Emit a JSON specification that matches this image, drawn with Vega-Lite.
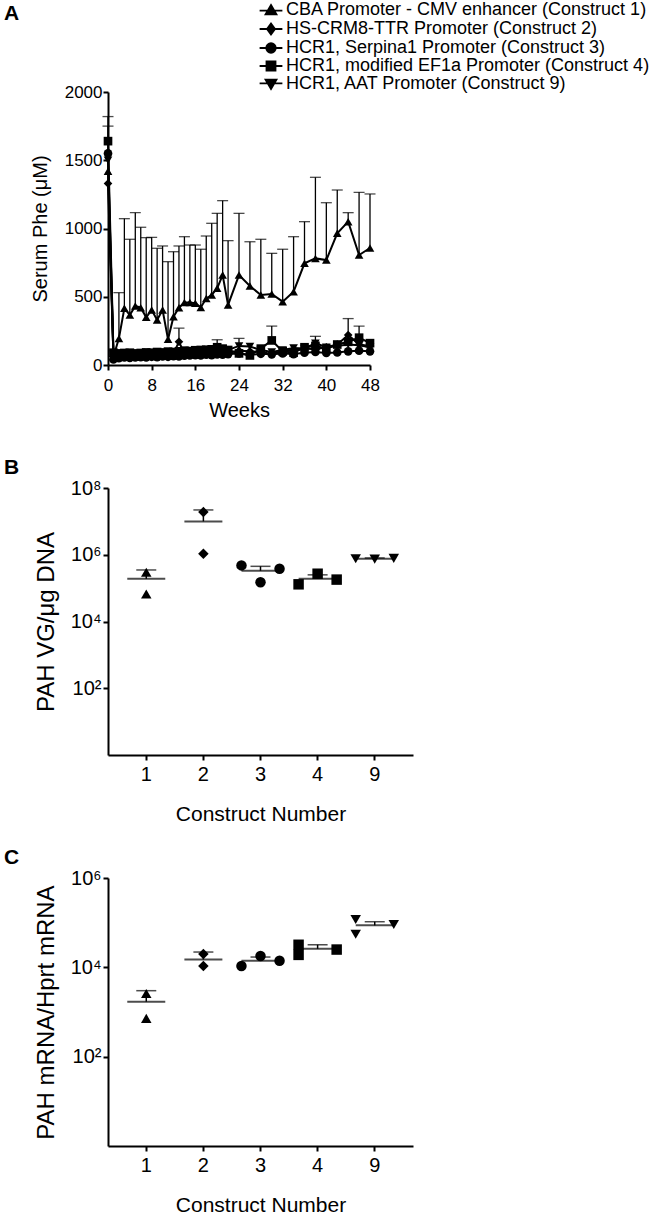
{
  "$schema": "https://vega.github.io/schema/vega-lite/v6.json",
  "background": "white",
  "padding": {"left": 4, "top": 1, "right": 0, "bottom": 0},
  "bounds": "flush",
  "spacing": 123,
  "resolve": {"scale": {"shape": "independent", "x": "independent", "y": "independent"}, "legend": {"shape": "independent"}},
  "datasets": {
    "phe": [
      {"c":"1","w":0,"v":1420},{"c":"1","w":1,"v":60},{"c":"1","w":2,"v":195,"hi":530},{"c":"1","w":3,"v":415,"hi":1072},{"c":"1","w":4,"v":366,"hi":921},{"c":"1","w":5,"v":432,"hi":1116},{"c":"1","w":6,"v":420,"hi":1009},{"c":"1","w":7,"v":349,"hi":933},{"c":"1","w":8,"v":403,"hi":935},{"c":"1","w":9,"v":330,"hi":855},{"c":"1","w":10,"v":403,"hi":872},{"c":"1","w":11,"v":188,"hi":757},{"c":"1","w":12,"v":354,"hi":830},{"c":"1","w":13,"v":420,"hi":872},{"c":"1","w":14,"v":457,"hi":940},{"c":"1","w":15,"v":457,"hi":879},{"c":"1","w":16,"v":452,"hi":879},{"c":"1","w":17,"v":422,"hi":848},{"c":"1","w":18,"v":488,"hi":945},{"c":"1","w":19,"v":513,"hi":1038},{"c":"1","w":20,"v":562,"hi":1111},{"c":"1","w":21,"v":659,"hi":1204},{"c":"1","w":22,"v":440,"hi":911},{"c":"1","w":24,"v":659,"hi":1111},{"c":"1","w":26,"v":579,"hi":903},{"c":"1","w":28,"v":513,"hi":921},{"c":"1","w":30,"v":520,"hi":818},{"c":"1","w":32,"v":464,"hi":848},{"c":"1","w":34,"v":537,"hi":940},{"c":"1","w":36,"v":745,"hi":1050},{"c":"1","w":38,"v":781,"hi":1375},{"c":"1","w":40,"v":769,"hi":1189},{"c":"1","w":42,"v":965,"hi":1282},{"c":"1","w":44,"v":1050,"hi":1116},{"c":"1","w":46,"v":806,"hi":1265},{"c":"1","w":48,"v":857,"hi":1253},
      {"c":"2","w":0,"v":1330},{"c":"2","w":1,"v":60},{"c":"2","w":2,"v":65},{"c":"2","w":3,"v":70},{"c":"2","w":4,"v":68},{"c":"2","w":5,"v":72},{"c":"2","w":6,"v":70},{"c":"2","w":7,"v":75},{"c":"2","w":8,"v":72},{"c":"2","w":9,"v":78},{"c":"2","w":10,"v":75},{"c":"2","w":11,"v":80},{"c":"2","w":12,"v":85},{"c":"2","w":13,"v":170,"hi":270},{"c":"2","w":14,"v":85},{"c":"2","w":15,"v":88},{"c":"2","w":16,"v":90},{"c":"2","w":17,"v":92},{"c":"2","w":18,"v":95},{"c":"2","w":19,"v":85},{"c":"2","w":20,"v":100},{"c":"2","w":21,"v":95},{"c":"2","w":22,"v":90},{"c":"2","w":24,"v":105},{"c":"2","w":26,"v":100},{"c":"2","w":28,"v":95},{"c":"2","w":30,"v":80},{"c":"2","w":32,"v":100},{"c":"2","w":34,"v":110},{"c":"2","w":36,"v":120},{"c":"2","w":38,"v":115},{"c":"2","w":40,"v":130},{"c":"2","w":42,"v":150},{"c":"2","w":44,"v":220,"hi":340},{"c":"2","w":46,"v":150},{"c":"2","w":48,"v":140},
      {"c":"3","w":0,"v":1550},{"c":"3","w":1,"v":40},{"c":"3","w":2,"v":50},{"c":"3","w":3,"v":55},{"c":"3","w":4,"v":52},{"c":"3","w":5,"v":55},{"c":"3","w":6,"v":58},{"c":"3","w":7,"v":55},{"c":"3","w":8,"v":60},{"c":"3","w":9,"v":58},{"c":"3","w":10,"v":62},{"c":"3","w":11,"v":60},{"c":"3","w":12,"v":65},{"c":"3","w":13,"v":62},{"c":"3","w":14,"v":68},{"c":"3","w":15,"v":70},{"c":"3","w":16,"v":72},{"c":"3","w":17,"v":70},{"c":"3","w":18,"v":75},{"c":"3","w":19,"v":72},{"c":"3","w":20,"v":78},{"c":"3","w":21,"v":75},{"c":"3","w":22,"v":80},{"c":"3","w":24,"v":85},{"c":"3","w":26,"v":75},{"c":"3","w":28,"v":82},{"c":"3","w":30,"v":78},{"c":"3","w":32,"v":85},{"c":"3","w":34,"v":80},{"c":"3","w":36,"v":90},{"c":"3","w":38,"v":95},{"c":"3","w":40,"v":88},{"c":"3","w":42,"v":92},{"c":"3","w":44,"v":100},{"c":"3","w":46,"v":105},{"c":"3","w":48,"v":100},
      {"c":"9","w":0,"v":1500,"hi":1820},{"c":"9","w":1,"v":80},{"c":"9","w":2,"v":75},{"c":"9","w":3,"v":80},{"c":"9","w":4,"v":78},{"c":"9","w":5,"v":82},{"c":"9","w":6,"v":80},{"c":"9","w":7,"v":85},{"c":"9","w":8,"v":82},{"c":"9","w":9,"v":88},{"c":"9","w":10,"v":85},{"c":"9","w":11,"v":90},{"c":"9","w":12,"v":88},{"c":"9","w":13,"v":92},{"c":"9","w":14,"v":95},{"c":"9","w":15,"v":98},{"c":"9","w":16,"v":100},{"c":"9","w":17,"v":102},{"c":"9","w":18,"v":105},{"c":"9","w":19,"v":110},{"c":"9","w":20,"v":115},{"c":"9","w":21,"v":118},{"c":"9","w":22,"v":110},{"c":"9","w":24,"v":140,"hi":195},{"c":"9","w":26,"v":135},{"c":"9","w":28,"v":110},{"c":"9","w":30,"v":95},{"c":"9","w":32,"v":110},{"c":"9","w":34,"v":125},{"c":"9","w":36,"v":120},{"c":"9","w":38,"v":160,"hi":210},{"c":"9","w":40,"v":130},{"c":"9","w":42,"v":140},{"c":"9","w":44,"v":150},{"c":"9","w":46,"v":145},{"c":"9","w":48,"v":130},
      {"c":"4","w":0,"v":1640,"hi":1750},{"c":"4","w":1,"v":90},{"c":"4","w":2,"v":85},{"c":"4","w":3,"v":88},{"c":"4","w":4,"v":90},{"c":"4","w":5,"v":85},{"c":"4","w":6,"v":88},{"c":"4","w":7,"v":92},{"c":"4","w":8,"v":90},{"c":"4","w":9,"v":95},{"c":"4","w":10,"v":92},{"c":"4","w":11,"v":98},{"c":"4","w":12,"v":95},{"c":"4","w":13,"v":100},{"c":"4","w":14,"v":105},{"c":"4","w":15,"v":102},{"c":"4","w":16,"v":108},{"c":"4","w":17,"v":110},{"c":"4","w":18,"v":112},{"c":"4","w":19,"v":115},{"c":"4","w":20,"v":130,"hi":185},{"c":"4","w":21,"v":120},{"c":"4","w":22,"v":110},{"c":"4","w":24,"v":85},{"c":"4","w":26,"v":70},{"c":"4","w":28,"v":120},{"c":"4","w":30,"v":180,"hi":285},{"c":"4","w":32,"v":100},{"c":"4","w":34,"v":90},{"c":"4","w":36,"v":130},{"c":"4","w":38,"v":140},{"c":"4","w":40,"v":120},{"c":"4","w":42,"v":150},{"c":"4","w":44,"v":170},{"c":"4","w":46,"v":200,"hi":285},{"c":"4","w":48,"v":160}
    ],
    "vg": [
      {"c":"1","r":"2","v":300000},{"c":"1","r":"2","v":67000},
      {"c":"2","r":"2","v":19000000},{"c":"2","r":"2","v":1070000},
      {"c":"3","r":"1","v":480000},{"c":"3","r":"2","v":150000},{"c":"3","r":"3","v":380000},
      {"c":"4","r":"1","v":130000},{"c":"4","r":"2","v":270000},{"c":"4","r":"3","v":180000},
      {"c":"9","r":"1","v":760000},{"c":"9","r":"2","v":740000},{"c":"9","r":"3","v":780000}
    ],
    "vgsum": [
      {"c":"1","m":190000,"hi":350000},{"c":"2","m":10000000,"hi":22000000},{"c":"3","m":330000,"hi":450000},{"c":"4","m":190000,"hi":250000},{"c":"9","m":760000,"hi":800000}
    ],
    "mrna": [
      {"c":"1","r":"2","v":2600},{"c":"1","r":"2","v":720},
      {"c":"2","r":"2","v":20000},{"c":"2","r":"2","v":10700},
      {"c":"3","r":"1","v":10700},{"c":"3","r":"2","v":18000},{"c":"3","r":"3","v":14000},
      {"c":"4","r":"1","v":32000},{"c":"4","r":"1","v":19000},{"c":"4","r":"3","v":25000},
      {"c":"9","r":"1","v":118000},{"c":"9","r":"1","v":55000},{"c":"9","r":"3","v":91000}
    ],
    "mrnasum": [
      {"c":"1","m":1700,"hi":3000},{"c":"2","m":15000,"hi":22000},{"c":"3","m":14000,"hi":17000},{"c":"4","m":26000,"hi":32000},{"c":"9","m":87000,"hi":105000}
    ]
  },
  "vconcat": [
    {
      "title": {"text": "A", "anchor": "start", "frame": "group", "dx": -104, "offset": -23, "fontSize": 21, "fontWeight": "bold", "font": "Liberation Sans", "color": "black"},
      "width": 262,
      "height": 273,
      "data": {"name": "phe"},
      "resolve": {"scale": {"shape": "independent"}, "legend": {"shape": "independent"}},
      "encoding": {
        "x": {"field": "w", "type": "quantitative", "scale": {"domain": [0, 48], "nice": false},
              "axis": {"values": [0, 8, 16, 24, 32, 40, 48], "format": "d", "title": "Weeks", "labelFontSize": 17, "titleFontSize": 20, "labelPadding": 7, "titlePadding": 7, "labelFlush": false}}
      },
      "layer": [
        {
          "transform": [{"filter": "isValid(datum.hi)"}],
          "mark": {"type": "rule", "color": "black", "strokeWidth": 1.3},
          "encoding": {
            "y": {"field": "v", "type": "quantitative", "scale": {"domain": [0, 2000], "nice": false}, "title": "Serum Phe (μM)",
                  "axis": {"values": [0, 500, 1000, 1500, 2000], "format": "d", "labelFontSize": 17, "titleFontSize": 20, "labelPadding": 1, "titlePadding": 14}},
            "y2": {"field": "hi"}
          }
        },
        {
          "transform": [{"filter": "isValid(datum.hi)"}],
          "mark": {"type": "tick", "orient": "horizontal", "color": "black", "size": 11, "thickness": 1.3},
          "encoding": {"y": {"field": "hi", "type": "quantitative", "title": "Serum Phe (μM)"}}
        },
        {
          "mark": {"type": "line", "color": "black", "strokeWidth": 2},
          "encoding": {"y": {"field": "v", "type": "quantitative", "title": "Serum Phe (μM)"}, "detail": {"field": "c"}}
        },
        {
          "mark": {"type": "point", "filled": true, "color": "black", "size": 75, "opacity": 1},
          "encoding": {
            "y": {"field": "v", "type": "quantitative", "title": "Serum Phe (μM)"},
            "shape": {"field": "c", "type": "nominal",
              "scale": {"domain": ["1", "2", "3", "4", "9"], "range": ["triangle-up", "diamond", "circle", "square", "triangle-down"]},
              "legend": null}
          }
        },
        {
          "transform": [{"filter": "false"}],
          "mark": {"type": "point", "filled": true, "color": "black", "stroke": "black", "strokeWidth": 2},
          "encoding": {
            "y": {"field": "v", "type": "quantitative", "title": "Serum Phe (μM)"},
            "shape": {"field": "c", "type": "nominal",
              "scale": {"domain": ["1", "2", "3", "4", "9"],
                "range": [
                  "M0,-1.05L1.15,0.9L-1.15,0.9ZM-2.4,0.15L2.4,0.15",
                  "M0,-1.15L0.85,0L0,1.15L-0.85,0ZM-2.4,0L2.4,0",
                  "M1,0A1,1,0,1,1,-1,0A1,1,0,1,1,1,0ZM-2.4,0L2.4,0",
                  "M-0.95,-0.95L0.95,-0.95L0.95,0.95L-0.95,0.95ZM-2.4,0L2.4,0",
                  "M0,1.05L1.15,-0.9L-1.15,-0.9ZM-2.4,-0.15L2.4,-0.15"
                ]},
              "legend": {
                "title": null, "orient": "none", "direction": "vertical", "legendX": 154, "legendY": -91,
                "labelExpr": "datum.value == '1' ? 'CBA Promoter - CMV enhancer (Construct 1)' : datum.value == '2' ? 'HS-CRM8-TTR Promoter (Construct 2)' : datum.value == '3' ? 'HCR1, Serpina1 Promoter (Construct 3)' : datum.value == '4' ? 'HCR1, modified EF1a Promoter (Construct 4)' : 'HCR1, AAT Promoter (Construct 9)'",
                "labelFontSize": 18, "labelFont": "Liberation Sans", "labelColor": "black", "labelLimit": 600,
                "symbolSize": 90, "symbolStrokeWidth": 1.8, "symbolOpacity": 1, "rowPadding": 0, "labelOffset": 6, "padding": 0
              }}
          }
        }
      ]
    },
    {
      "title": {"text": "B", "anchor": "start", "frame": "group", "dx": -104, "offset": 0, "fontSize": 21, "fontWeight": "bold", "font": "Liberation Sans", "color": "black"},
      "width": 305,
      "height": 267,
      "encoding": {
        "x": {"field": "c", "type": "ordinal", "scale": {"type": "band", "domain": ["1", "2", "3", "4", "9"], "paddingInner": 0, "paddingOuter": 0.17},
              "axis": {"title": "Construct Number", "labelAngle": 0, "labelFontSize": 20, "titleFontSize": 21, "labelPadding": 4, "titlePadding": 19}}
      },
      "layer": [
        {
          "data": {"name": "vgsum"},
          "mark": {"type": "rule", "color": "black", "strokeWidth": 1.5},
          "encoding": {
            "y": {"field": "m", "type": "quantitative", "scale": {"type": "log", "domain": [1, 100000000], "nice": false}, "title": "PAH  VG/μg DNA",
                  "axis": {"values": [100, 10000, 1000000, 100000000], "labelExpr": "datum.value < 1000 ? '10²' : datum.value < 100000 ? '10⁴' : datum.value < 10000000 ? '10⁶' : '10⁸'", "labelFontSize": 20, "titleFontSize": 24, "labelPadding": 2, "titlePadding": 12}},
            "y2": {"field": "hi"}
          }
        },
        {
          "data": {"name": "vgsum"},
          "mark": {"type": "tick", "orient": "horizontal", "color": "black", "size": 20, "thickness": 1.5},
          "encoding": {"y": {"field": "hi", "type": "quantitative", "title": "PAH  VG/μg DNA"}}
        },
        {
          "data": {"name": "vgsum"},
          "mark": {"type": "tick", "orient": "horizontal", "color": "black", "size": 38, "thickness": 2},
          "encoding": {"y": {"field": "m", "type": "quantitative", "title": "PAH  VG/μg DNA"}}
        },
        {
          "data": {"name": "vg"},
          "mark": {"type": "point", "filled": true, "color": "black", "size": 110, "opacity": 1},
          "encoding": {
            "y": {"field": "v", "type": "quantitative", "title": "PAH  VG/μg DNA"},
            "xOffset": {"field": "r", "type": "nominal", "scale": {"domain": ["1", "2", "3"], "paddingInner": 0, "paddingOuter": 0.5}},
            "shape": {"field": "c", "type": "nominal", "scale": {"domain": ["1", "2", "3", "4", "9"], "range": ["triangle-up", "diamond", "circle", "square", "triangle-down"]}, "legend": null}
          }
        }
      ]
    },
    {
      "title": {"text": "C", "anchor": "start", "frame": "group", "dx": -104, "offset": 0, "fontSize": 21, "fontWeight": "bold", "font": "Liberation Sans", "color": "black"},
      "width": 305,
      "height": 268,
      "encoding": {
        "x": {"field": "c", "type": "ordinal", "scale": {"type": "band", "domain": ["1", "2", "3", "4", "9"], "paddingInner": 0, "paddingOuter": 0.17},
              "axis": {"title": "Construct Number", "labelAngle": 0, "labelFontSize": 20, "titleFontSize": 21, "labelPadding": 4, "titlePadding": 19}}
      },
      "layer": [
        {
          "data": {"name": "mrnasum"},
          "mark": {"type": "rule", "color": "black", "strokeWidth": 1.5},
          "encoding": {
            "y": {"field": "m", "type": "quantitative", "scale": {"type": "log", "domain": [1, 1000000], "nice": false}, "title": "PAH mRNA/Hprt mRNA",
                  "axis": {"values": [100, 10000, 1000000], "labelExpr": "datum.value < 1000 ? '10²' : datum.value < 100000 ? '10⁴' : '10⁶'", "labelFontSize": 20, "titleFontSize": 24, "labelPadding": 2, "titlePadding": 12}},
            "y2": {"field": "hi"}
          }
        },
        {
          "data": {"name": "mrnasum"},
          "mark": {"type": "tick", "orient": "horizontal", "color": "black", "size": 20, "thickness": 1.5},
          "encoding": {"y": {"field": "hi", "type": "quantitative", "title": "PAH mRNA/Hprt mRNA"}}
        },
        {
          "data": {"name": "mrnasum"},
          "mark": {"type": "tick", "orient": "horizontal", "color": "black", "size": 38, "thickness": 2},
          "encoding": {"y": {"field": "m", "type": "quantitative", "title": "PAH mRNA/Hprt mRNA"}}
        },
        {
          "data": {"name": "mrna"},
          "mark": {"type": "point", "filled": true, "color": "black", "size": 110, "opacity": 1},
          "encoding": {
            "y": {"field": "v", "type": "quantitative", "title": "PAH mRNA/Hprt mRNA"},
            "xOffset": {"field": "r", "type": "nominal", "scale": {"domain": ["1", "2", "3"], "paddingInner": 0, "paddingOuter": 0.5}},
            "shape": {"field": "c", "type": "nominal", "scale": {"domain": ["1", "2", "3", "4", "9"], "range": ["triangle-up", "diamond", "circle", "square", "triangle-down"]}, "legend": null}
          }
        }
      ]
    }
  ],
  "config": {
    "font": "Liberation Sans",
    "view": {"stroke": null},
    "axis": {"domainColor": "black", "domainWidth": 2, "tickColor": "black", "tickWidth": 2, "tickSize": 5, "labelColor": "black", "titleColor": "black", "titleFontWeight": "normal", "grid": false, "labelFont": "Liberation Sans", "titleFont": "Liberation Sans"}
  }
}
